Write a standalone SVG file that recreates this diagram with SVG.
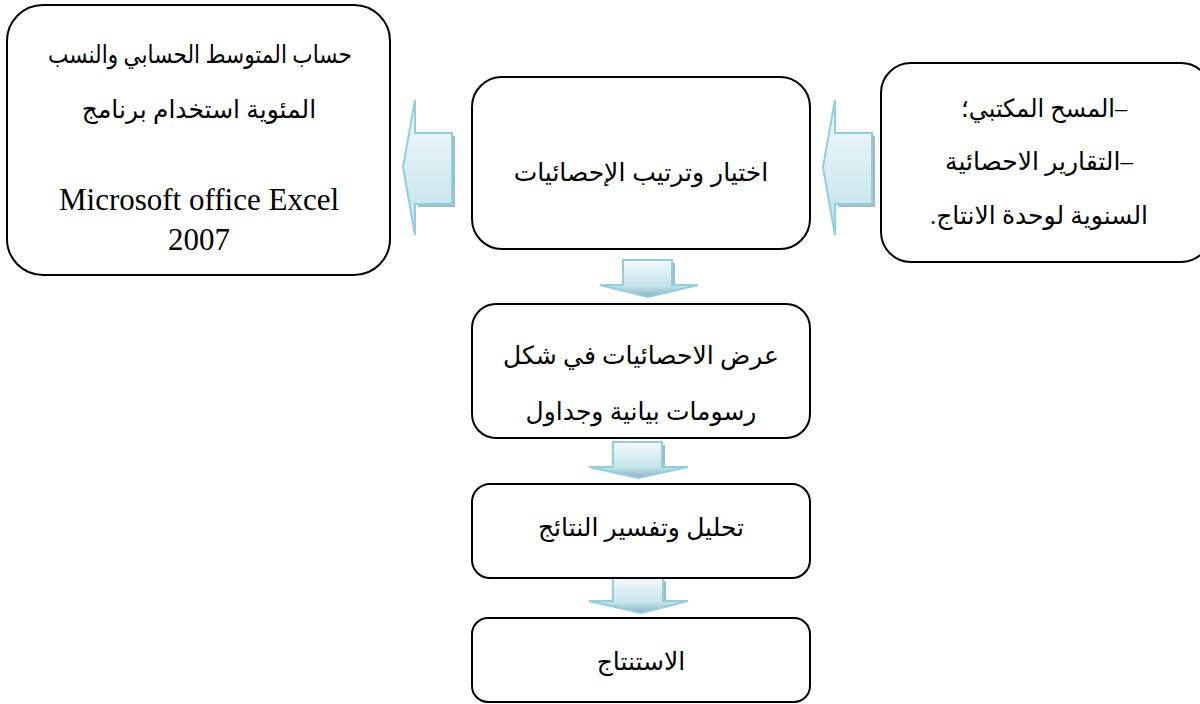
<svg xmlns="http://www.w3.org/2000/svg" width="1200" height="704" viewBox="0 0 1200 704">
<defs>
<linearGradient id="gArr" x1="0" y1="0" x2="0" y2="1">
<stop offset="0" stop-color="#f4fafc"/>
<stop offset="1" stop-color="#bfe2ea"/>
</linearGradient>
<linearGradient id="gDown" x1="0" y1="0" x2="0" y2="1">
<stop offset="0" stop-color="#f4fafc"/>
<stop offset="0.7" stop-color="#c4e4ec"/>
<stop offset="1" stop-color="#8fb0bc"/>
</linearGradient>
<style>
.box{fill:#fff;stroke:#000;stroke-width:2}
.arr{fill:url(#gArr);stroke:#8fd0df;stroke-width:2;stroke-linejoin:miter}
.darr{fill:url(#gDown);stroke:#8fd0df;stroke-width:2}
.sh{fill:#8fa8b2;opacity:0.8}
.ar{font-family:"Liberation Serif","DejaVu Serif","DejaVu Sans",serif;font-size:25px;fill:#000;text-anchor:middle}
.sans{font-family:"Liberation Sans","DejaVu Sans",sans-serif;font-size:25px;fill:#000;text-anchor:middle}
.lat{font-family:"Liberation Serif",serif;font-size:31px;fill:#000;text-anchor:middle}
</style>
</defs>
<rect width="1200" height="704" fill="#fff"/>
<g id="connectors">
<g id="arrow-left1">
<polygon class="sh" points="418,136 455,136 455,207 418,207"/>
<polygon class="arr" points="403,167 415,100 415,133 452,133 452,204 415,204 415,235"/>
</g>
<g id="arrow-left2">
<polygon class="sh" points="838,136 875,136 875,207 838,207"/>
<polygon class="arr" points="823,167 835,100 835,133 872,133 872,204 835,204 835,235"/>
</g>
<g id="arrow-down1">
<polygon class="sh" points="626,263 675,263 675,288 626,288"/>
<polygon class="darr" points="623,260 672,260 672,285 698,285 648,297 600,285 623,285"/>
</g>
<g id="arrow-down2">
<polygon class="sh" points="616,445 665,445 665,470 616,470"/>
<polygon class="darr" points="613,442 662,442 662,467 688,467 638,478 589,467 613,467"/>
</g>
<g id="arrow-down3">
<polygon class="sh" points="616,581 666,581 666,604 616,604"/>
<polygon class="darr" points="613,578 663,578 663,601 688,601 641,613 589,601 613,601"/>
</g>
</g>
<g id="node-calc">
<rect class="box" x="7" y="5" width="383" height="270" rx="36" ry="36"/>
<text class="ar" x="200" y="63" direction="rtl" textLength="304" lengthAdjust="spacingAndGlyphs">حساب المتوسط الحسابي والنسب</text>
<text class="ar" x="199" y="118" direction="rtl">المئوية استخدام برنامج</text>
<text class="lat" x="199" y="210">Microsoft office Excel</text>
<text class="lat" x="199" y="250">2007</text>
</g>
<g id="node-select">
<rect class="box" x="472" y="77" width="338" height="172" rx="30" ry="30"/>
<text class="sans" x="641" y="181" direction="rtl">اختيار وترتيب الإحصائيات</text>
</g>
<g id="node-sources">
<rect class="box" x="881" y="63" width="330" height="199" rx="30" ry="30"/>
<text class="ar" x="1044" y="117" direction="rtl" textLength="166" lengthAdjust="spacingAndGlyphs">–المسح المكتبي؛</text>
<text class="ar" x="1039" y="170" direction="rtl">–التقارير الاحصائية</text>
<text class="ar" x="1039" y="224" direction="rtl">السنوية لوحدة الانتاج.</text>
</g>
<g id="node-display">
<rect class="box" x="472" y="304" width="338" height="134" rx="24" ry="24"/>
<text class="ar" x="641" y="364" direction="rtl">عرض الاحصائيات في شكل</text>
<text class="ar" x="641" y="420" direction="rtl">رسومات بيانية وجداول</text>
</g>
<g id="node-analysis">
<rect class="box" x="472" y="484" width="338" height="94" rx="18" ry="18"/>
<text class="ar" x="641" y="536" direction="rtl">تحليل وتفسير النتائج</text>
</g>
<g id="node-conclusion">
<rect class="box" x="472" y="618" width="338" height="84" rx="16" ry="16"/>
<text class="ar" x="641" y="670" direction="rtl">الاستنتاج</text>
</g>
</svg>
